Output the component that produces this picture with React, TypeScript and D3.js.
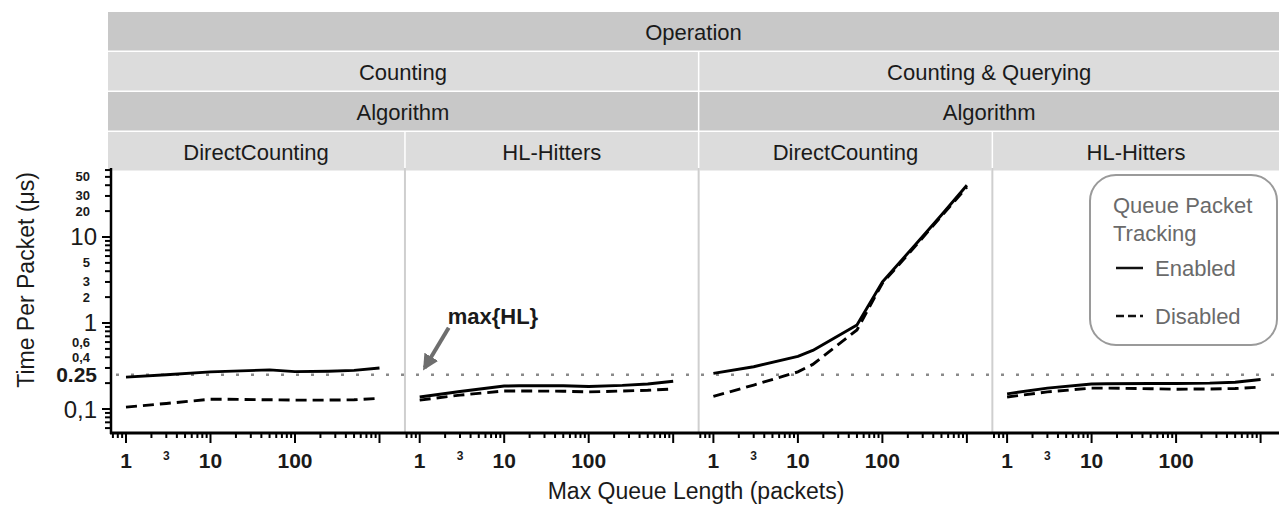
import React from "react";
import * as d3 from "d3";

// ---------- data ----------
const operations = ["Counting", "Counting & Querying"];
const algorithms = ["DirectCounting", "HL-Hitters"];
const xValues = [1, 3, 10, 15, 50, 100, 250, 500, 1000];

// Counting / DirectCounting
const cdEnabled = [0.235, 0.25, 0.27, 0.274, 0.285, 0.272, 0.275, 0.281, 0.3];
const cdDisabled = [0.105, 0.116, 0.13, 0.13, 0.128, 0.127, 0.127, 0.128, 0.133];
// Counting / HL-Hitters
const chEnabled = [0.138, 0.16, 0.185, 0.186, 0.186, 0.183, 0.188, 0.195, 0.21];
const chDisabled = [0.127, 0.145, 0.162, 0.162, 0.161, 0.158, 0.162, 0.165, 0.171];
// Counting & Querying / DirectCounting
const qdEnabled = [0.26, 0.31, 0.41, 0.48, 0.95, 3.0, 8.3, 18, 40];
const qdDisabled = [0.14, 0.19, 0.27, 0.33, 0.83, 2.9, 8.0, 17.5, 38];
// Counting & Querying / HL-Hitters
const qhEnabled = [0.15, 0.175, 0.195, 0.197, 0.198, 0.198, 0.2, 0.205, 0.22];
const qhDisabled = [0.138, 0.158, 0.175, 0.175, 0.172, 0.17, 0.171, 0.173, 0.18];

const panelSeries = [
  [cdEnabled, cdDisabled],
  [chEnabled, chDisabled],
  [qdEnabled, qdDisabled],
  [qhEnabled, qhDisabled],
];

const yTickValues = [50, 30, 20, 10, 5, 3, 2, 1, 0.6, 0.4, 0.25, 0.1];
const yTickLabels = ["50", "30", "20", "10", "5", "3", "2", "1", "0,6", "0,4", "0.25", "0,1"];
const xTickValues = [1, 3, 10, 100];
const xTickLabels = ["1", "3", "10", "100"];
const refValue = 0.25;
const legendTitle = ["Queue Packet", "Tracking"];
const legendItems = ["Enabled", "Disabled"];
const annotationText = "max{HL}";

// ---------- layout ----------
const W = 1279;
const H = 507;
const FONT = "'Liberation Sans', Arial, Helvetica, sans-serif";
const plotLeft = 112;
const panelStep = 293.7;
const panelW = 293;
const plotTop = 168;
const plotBottom = 433;
const stripLeft = 108;
const stripTop = 12;
const rowH = 38.5;
const rowGap = 1.5;
const dark = "#c8c8c8";
const light = "#dcdcdc";

const yScale = d3.scaleLog().domain([0.0526, 63.4]).range([plotBottom, plotTop]);
const panelLefts = [0, 1, 2, 3].map((i) => plotLeft + i * panelStep);
const xScales = panelLefts.map((l) =>
  d3.scaleLog().domain([0.683, 2004]).range([l, l + panelW])
);

function minorTicks(lo: number, hi: number) {
  const out: number[] = [];
  for (let e = -3; e <= 4; e++) {
    for (let m = 1; m <= 9; m++) {
      const v = m * Math.pow(10, e);
      if (v >= lo && v <= hi) out.push(+v.toPrecision(3));
    }
  }
  return out;
}

export default function App() {
  const yTicks = minorTicks(0.053, 63);
  const xTicks = minorTicks(0.69, 1000);
  const isMajor = (v: number) => Math.abs(Math.log10(v) - Math.round(Math.log10(v))) < 1e-6;

  const rowY = (r: number) => stripTop + r * (rowH + rowGap);
  const cellRight = (i: number, span: number) => {
    const next = i + span;
    return next >= 4 ? W : panelLefts[next] - 1.5;
  };
  const cellLeft = (i: number) => (i === 0 ? stripLeft : panelLefts[i]);

  const strips: any[] = [];
  strips.push({ x0: stripLeft, x1: W, r: 0, label: "Operation", fill: dark });
  operations.forEach((op, j) => {
    strips.push({ x0: cellLeft(j * 2), x1: cellRight(j * 2, 2), r: 1, label: op, fill: light });
    strips.push({ x0: cellLeft(j * 2), x1: cellRight(j * 2, 2), r: 2, label: "Algorithm", fill: dark });
    algorithms.forEach((al, k) => {
      const i = j * 2 + k;
      strips.push({ x0: cellLeft(i), x1: cellRight(i, 1), r: 3, label: al, fill: light });
    });
  });

  const yRef = yScale(refValue);
  const annX = xScales[1](1);

  return (
    <svg
      width={W}
      height={H}
      style={{ position: "absolute", left: 0, top: 0, display: "block", background: "#fff" }}
      fontFamily={FONT}
    >
      <defs>
        <marker id="arrow" viewBox="0 0 10 10" refX="8" refY="5" markerWidth="4" markerHeight="4" orient="auto">
          <path d="M0,0 L10,5 L0,10 z" fill="#6e6e6e" />
        </marker>
      </defs>
      <rect x={0} y={0} width={W} height={H} fill="#fff" />

      {/* strips */}
      {strips.map((s, i) => (
        <g key={"s" + i}>
          <rect x={s.x0} y={rowY(s.r)} width={s.x1 - s.x0} height={rowH} fill={s.fill} />
          <text
            x={(s.x0 + s.x1) / 2}
            y={rowY(s.r) + rowH / 2 + 1}
            textAnchor="middle"
            dominantBaseline="central"
            fontSize={22}
            fill="#1a1a1a"
          >
            {s.label}
          </text>
        </g>
      ))}

      {/* panel separators */}
      {panelLefts.slice(1).map((l, i) => (
        <line key={"sep" + i} x1={l - 0.75} x2={l - 0.75} y1={plotTop} y2={plotBottom} stroke="#cfcfcf" strokeWidth={2} />
      ))}

      {/* reference dotted line */}
      <line x1={plotLeft + 4} x2={W} y1={yRef} y2={yRef} stroke="#8a8a8a" strokeWidth={2.5} strokeDasharray="3 12" />

      {/* series */}
      {panelSeries.map((ser, p) => {
        const line = d3
          .line<number>()
          .x((_, i) => xScales[p](xValues[i]))
          .y((d) => yScale(d));
        return (
          <g key={"p" + p}>
            <path d={line(ser[0]) || ""} fill="none" stroke="#000" strokeWidth={2.9} strokeLinejoin="round" />
            <path d={line(ser[1]) || ""} fill="none" stroke="#000" strokeWidth={2.9} strokeDasharray="11 6" />
          </g>
        );
      })}

      {/* y axis */}
      <line x1={plotLeft - 1} x2={plotLeft - 1} y1={plotTop} y2={plotBottom + 1} stroke="#000" strokeWidth={2.5} />
      {yTicks.map((v, i) => (
        <line
          key={"yt" + i}
          x1={plotLeft - 1}
          x2={plotLeft - 1 - (isMajor(v) ? 9 : 6)}
          y1={yScale(v)}
          y2={yScale(v)}
          stroke="#000"
          strokeWidth={2}
        />
      ))}
      {yTickValues.map((v, i) => {
        const big = isMajor(v);
        const isRef = v === refValue;
        const small = !big && !isRef;
        return (
          <text
            key={"yl" + i}
            x={small ? 90 : 97}
            y={yScale(v)}
            textAnchor="end"
            dominantBaseline="central"
            fontSize={big ? 24 : isRef ? 21 : 13}
            fontWeight={big ? "normal" : "bold"}
            fill="#1a1a1a"
          >
            {yTickLabels[i]}
          </text>
        );
      })}

      {/* x axis */}
      <line x1={plotLeft - 2} x2={W} y1={plotBottom} y2={plotBottom} stroke="#000" strokeWidth={2.8} />
      {xScales.map((xs, p) => (
        <g key={"xa" + p}>
          {xTicks.map((v, i) => (
            <line
              key={"xt" + i}
              x1={xs(v)}
              x2={xs(v)}
              y1={plotBottom}
              y2={plotBottom + (isMajor(v) ? 10 : 5)}
              stroke="#000"
              strokeWidth={2}
            />
          ))}
          {xTickValues.map((v, i) => {
            const small = !isMajor(v);
            return (
              <text
                key={"xl" + i}
                x={xs(v)}
                y={small ? 460 : 468}
                textAnchor="middle"
                fontSize={small ? 12 : 21}
                fontWeight="bold"
                fill="#1a1a1a"
              >
                {xTickLabels[i]}
              </text>
            );
          })}
        </g>
      ))}

      {/* axis titles */}
      <text x={696} y={491} textAnchor="middle" dominantBaseline="central" fontSize={23} fill="#1a1a1a">
        Max Queue Length (packets)
      </text>
      <text
        transform={`translate(26,${280}) rotate(-90)`}
        textAnchor="middle"
        dominantBaseline="central"
        fontSize={23}
        fill="#1a1a1a"
      >
        Time Per Packet (μs)
      </text>

      {/* annotation */}
      <line
        x1={annX + 29}
        y1={yRef - 47}
        x2={annX + 5}
        y2={yRef - 7}
        stroke="#6e6e6e"
        strokeWidth={4}
        markerEnd="url(#arrow)"
      />
      <text x={annX + 28} y={yRef - 51} fontSize={22} fontWeight="bold" fill="#1a1a1a">
        {annotationText}
      </text>

      {/* legend */}
      <rect x={1090} y={175} width={187} height={170} rx={26} ry={26} fill="#fff" stroke="#9a9a9a" strokeWidth={2} />
      {legendTitle.map((t, i) => (
        <text key={"lt" + i} x={1113} y={213 + i * 28} fontSize={22} fill="#6a6a6a">
          {t}
        </text>
      ))}
      {legendItems.map((t, i) => (
        <g key={"li" + i}>
          <line
            x1={1116}
            x2={1143}
            y1={268 + i * 48}
            y2={268 + i * 48}
            stroke="#111"
            strokeWidth={2.5}
            strokeDasharray={i === 1 ? "8 4" : undefined}
          />
          <text x={1155} y={276 + i * 48} fontSize={22} fill="#6a6a6a">
            {t}
          </text>
        </g>
      ))}
    </svg>
  );
}
